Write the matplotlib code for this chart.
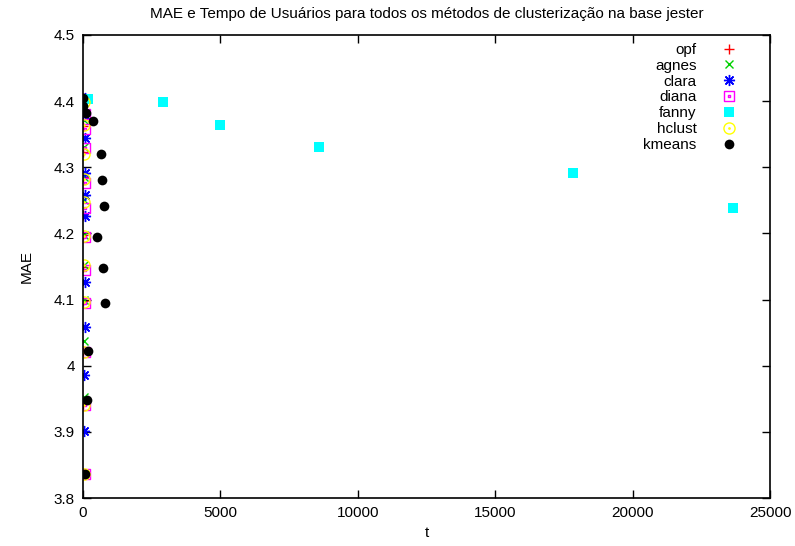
import matplotlib
matplotlib.use("Agg")
import matplotlib.pyplot as plt
from matplotlib.path import Path

plt.rcParams['font.family'] = ['Liberation Sans', 'DejaVu Sans']

# MAE vs. user time for each clustering method
opf_t = [5, 5, 5, 5, 5, 5, 5, 5, 5, 5, 5, 5]
opf_mae = [4.404, 4.381, 4.362, 4.323, 4.286, 4.228, 4.197, 4.150, 4.098, 4.022, 3.942, 3.837]

agnes_t = [40, 40, 40, 40, 40, 40, 40, 40, 40, 40, 40]
agnes_mae = [4.404, 4.372, 4.330, 4.285, 4.250, 4.198, 4.152, 4.099, 4.038, 3.953, 3.837]

clara_t = [60, 60, 60, 80, 90, 80, 60, 60, 50, 40]
clara_mae = [4.405, 4.379, 4.344, 4.291, 4.258, 4.226, 4.127, 4.058, 3.986, 3.901]

diana_t = [60, 60, 70, 60, 60, 60, 60, 60, 60, 60, 60]
diana_mae = [4.380, 4.358, 4.329, 4.276, 4.238, 4.195, 4.144, 4.095, 4.020, 3.940, 3.836]

fanny_t = [180, 2922, 4996, 8599, 17843, 23665]
fanny_mae = [4.403, 4.399, 4.364, 4.330, 4.292, 4.239]

hclust_t = [20, 20, 20, 20, 20, 20, 20, 20, 20, 20, 20]
hclust_mae = [4.398, 4.364, 4.320, 4.283, 4.247, 4.196, 4.152, 4.097, 4.021, 3.940, 3.837]

kmeans_t = [11, 11, 109, 364, 655, 691, 764, 509, 728, 790, 182, 156, 73]
kmeans_mae = [4.404, 4.392, 4.382, 4.370, 4.320, 4.281, 4.241, 4.195, 4.147, 4.095, 4.023, 3.948, 3.836]

x_ticks = [0, 5000, 10000, 15000, 20000, 25000]
y_ticks = [3.8, 3.9, 4.0, 4.1, 4.2, 4.3, 4.4, 4.5]
y_labels = ['3.8', '3.9', '4', '4.1', '4.2', '4.3', '4.4', '4.5']

# square with a centre dot
sq_outer = Path([(-1, -1), (1, -1), (1, 1), (-1, 1), (-1, -1)],
                [Path.MOVETO, Path.LINETO, Path.LINETO, Path.LINETO, Path.CLOSEPOLY])
sq_inner = Path([(-0.12, -0.12), (0.12, -0.12), (0.12, 0.12), (-0.12, 0.12), (-0.12, -0.12)],
                [Path.MOVETO, Path.LINETO, Path.LINETO, Path.LINETO, Path.CLOSEPOLY])
square_dot = Path.make_compound_path(sq_outer, sq_inner)
# circle with a centre dot
circle_dot = Path.make_compound_path(Path.circle(radius=1.0), Path.circle(radius=0.12))

fig = plt.figure(figsize=(7.95, 5.46), dpi=100)
ax = fig.add_axes([0.1044, 0.0879, 0.8642, 0.8480])

ax.plot(opf_t, opf_mae, ls='none', marker='+', ms=7, mew=1, color='#ff0000', label='opf')
ax.plot(agnes_t, agnes_mae, ls='none', marker='x', ms=6, mew=1, color='#00d000', label='agnes')
ax.plot(clara_t, clara_mae, ls='none', marker=(8, 2, 0), ms=8, mew=1, color='#0000ff', label='clara')
ax.plot(diana_t, diana_mae, ls='none', marker=square_dot, ms=7, mew=1, mfc='none',
        color='#ff00ff', label='diana')
ax.plot(fanny_t, fanny_mae, ls='none', marker='s', ms=7, mew=0, color='#00ffff', label='fanny')
ax.plot(hclust_t, hclust_mae, ls='none', marker=circle_dot, ms=8, mew=1, mfc='none',
        color='#ffff00', label='hclust')
ax.plot(kmeans_t, kmeans_mae, ls='none', marker='o', ms=7, mew=0, color='#000000', label='kmeans')

ax.set_xlim(0, 25000)
ax.set_ylim(3.8, 4.5)
ax.set_xticks(x_ticks)
ax.set_xticklabels([str(v) for v in x_ticks])
ax.set_yticks(y_ticks)
ax.set_yticklabels(y_labels)
ax.tick_params(direction='in', top=True, right=True, length=6, width=1,
               labelsize=11, pad=6)
for s in ax.spines.values():
    s.set_linewidth(1.2)

ax.set_xlabel('t', fontsize=11, labelpad=4)
ax.set_ylabel('MAE', fontsize=11, labelpad=14)
ax.set_title('MAE e Tempo de Usuários para todos os métodos de clusterização na base jester',
             fontsize=11, pad=12)

leg = ax.legend(loc='upper right', bbox_to_anchor=(0.963, 0.996), frameon=False,
                markerfirst=False, fontsize=11, labelspacing=0.12, handlelength=1.2,
                handletextpad=1.55, borderaxespad=0)

fig.savefig('out.png', dpi=100)
